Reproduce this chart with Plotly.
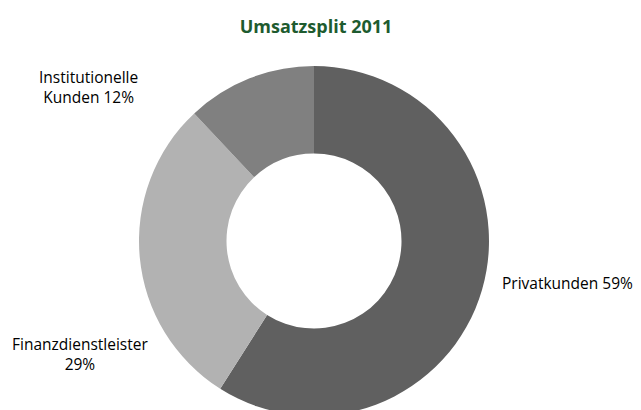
import plotly.graph_objects as go

categories = ["Privatkunden", "Finanzdienstleister", "Institutionelle Kunden"]
values = [59, 29, 12]
label_text = ["Privatkunden 59%", "Finanzdienstleister<br>29%", "Institutionelle<br>Kunden 12%"]
colors = ["#606060", "#b2b2b2", "#808080"]

OFF = 8  # default page body margin
W, H = 641 - OFF, 430 - OFF
ML, MT, MB = 139 - OFF, 66 - OFF, 14
PH = H - MT - MB
PW = PH
MR = W - ML - PW

def px2paper(x, y):
    x -= OFF
    y -= OFF
    return (x - ML) / PW, (H - MB - y) / PH

fig = go.Figure(go.Pie(
    labels=categories,
    values=values,
    hole=0.5,
    sort=False,
    direction="clockwise",
    rotation=0,
    marker=dict(colors=colors, line=dict(width=0)),
    textinfo="none",
    hoverinfo="label+percent",
    showlegend=False,
))

label_pos = [(567, 283), (80, 354), (88, 87)]
for txt, (lx, ly) in zip(label_text, label_pos):
    ax, ay = px2paper(lx, ly)
    fig.add_annotation(text=txt, x=ax, y=ay, xref="paper", yref="paper",
                       showarrow=False, xanchor="center", yanchor="middle",
                       align="center",
                       font=dict(family="Open Sans", size=15.5, color="#000000"))

fig.update_layout(
    width=W, height=H,
    margin=dict(l=ML, r=MR, t=MT, b=MB),
    paper_bgcolor="white", plot_bgcolor="white",
    title=dict(text="<b>Umsatzsplit 2011</b>", x=(316 - OFF) / W, xanchor="center",
               y=1 - (27 - OFF) / H, yanchor="middle", yref="container",
               font=dict(family="Open Sans", size=18, color="#1e5b2f")),
)

fig.write_html("out.html")
